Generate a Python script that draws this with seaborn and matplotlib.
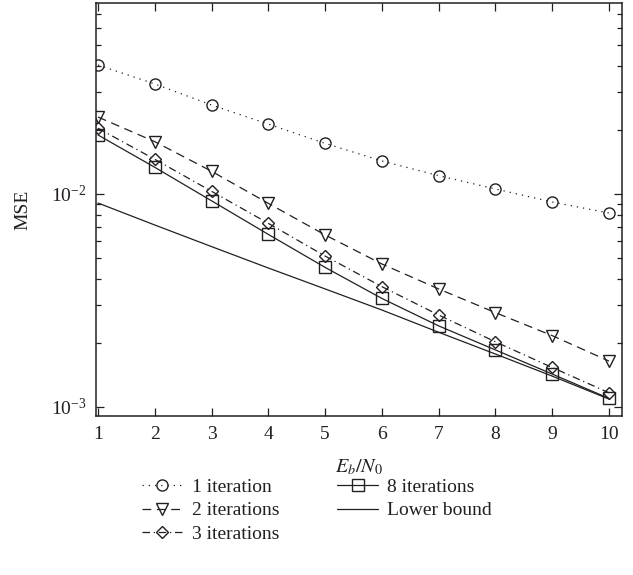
import numpy as np
import pandas as pd
import matplotlib
matplotlib.use("Agg")
import matplotlib.pyplot as plt
import seaborn as sns
from matplotlib.ticker import LogLocator, NullFormatter, FixedLocator

# ---- data ----
ebn0 = [1, 2, 3, 4, 5, 6, 7, 8, 9, 10]
mse_1_iter = [0.0404, 0.0329, 0.0262, 0.0213, 0.0173, 0.0143, 0.0122, 0.01056, 0.00917, 0.00814]
mse_2_iter = [0.0230, 0.01762, 0.01279, 0.00904, 0.00642, 0.00469, 0.00358, 0.00277, 0.00216, 0.00164]
mse_3_iter = [0.02037, 0.01456, 0.01030, 0.00728, 0.00511, 0.00367, 0.00270, 0.00202, 0.00153, 0.001164]
mse_8_iter = [0.01894, 0.01335, 0.00929, 0.00646, 0.00452, 0.00323, 0.00240, 0.00185, 0.001425, 0.001095]
mse_bound = [0.00907, 0.00715, 0.00566, 0.00449, 0.00358, 0.00285, 0.00224, 0.00177, 0.001394, 0.001087]
series_labels = ["1 iteration", "2 iterations", "3 iterations", "8 iterations", "Lower bound"]
x_ticks = [1, 2, 3, 4, 5, 6, 7, 8, 9, 10]

sns.set_theme(style="ticks")
plt.rcParams["font.family"] = ["Liberation Serif", "DejaVu Serif"]
plt.rcParams["mathtext.fontset"] = "stix"

ink = "#231f20"
fs = 14

fig = plt.figure(figsize=(6.33, 5.75), dpi=100)
ax = fig.add_axes([96 / 633, 1 - 416 / 575, (622 - 96) / 633, (416 - 3) / 575])

styles = [
    (mse_1_iter, "o", (0, (1, 4))),
    (mse_2_iter, "v", (0, (7, 4.5))),
    (mse_3_iter, "D", (0, (6, 3, 1, 3))),
    (mse_8_iter, "s", "-"),
    (mse_bound, None, "-"),
]
msizes = {"o": 8, "v": 8, "D": 6.3, "s": 8}

for (vals, mk, ls), lab in zip(styles, series_labels):
    df = pd.DataFrame({"x": ebn0, "y": vals})
    kw = dict(color=ink, linewidth=0.9, linestyle=ls, label=lab)
    if mk is not None:
        kw.update(marker=mk, markersize=msizes[mk], markerfacecolor="none",
                  markeredgecolor=ink, markeredgewidth=1.0)
    sns.lineplot(data=df, x="x", y="y", ax=ax, **kw)

if ax.get_legend() is not None:
    ax.get_legend().remove()

ax.set_yscale("log")
ax.set_xlim(0.965, 10.23)
ax.set_ylim(9.05e-4, 0.079)
ax.xaxis.set_major_locator(FixedLocator(x_ticks))
ax.set_xticklabels([str(t) for t in x_ticks])
ax.yaxis.set_major_locator(LogLocator(base=10))
ax.yaxis.set_minor_locator(LogLocator(base=10, subs=np.arange(2, 10)))
ax.yaxis.set_minor_formatter(NullFormatter())

ax.tick_params(which="both", direction="in", top=True, right=True, colors=ink,
               labelcolor=ink, labelsize=fs, width=0.9)
ax.tick_params(which="major", length=6, pad=7)
ax.tick_params(which="minor", length=3.5)
for sp in ax.spines.values():
    sp.set_linewidth(1.1)
    sp.set_color(ink)

ax.set_xlabel("$E_b/N_0$", fontsize=fs + 0.5, color=ink, labelpad=11)
ax.set_ylabel("MSE", fontsize=fs, color=ink, labelpad=14)

handles, labels = ax.get_legend_handles_labels()
fig.legend(handles, labels, ncol=2, loc="upper left",
           bbox_to_anchor=(142 / 633, 1 - 478 / 575), frameon=False,
           fontsize=fs, handlelength=2.1, handletextpad=0.45,
           columnspacing=3.0, labelspacing=0.32, borderpad=0, borderaxespad=0,
           labelcolor=ink)

fig.savefig("out.png", dpi=100)
